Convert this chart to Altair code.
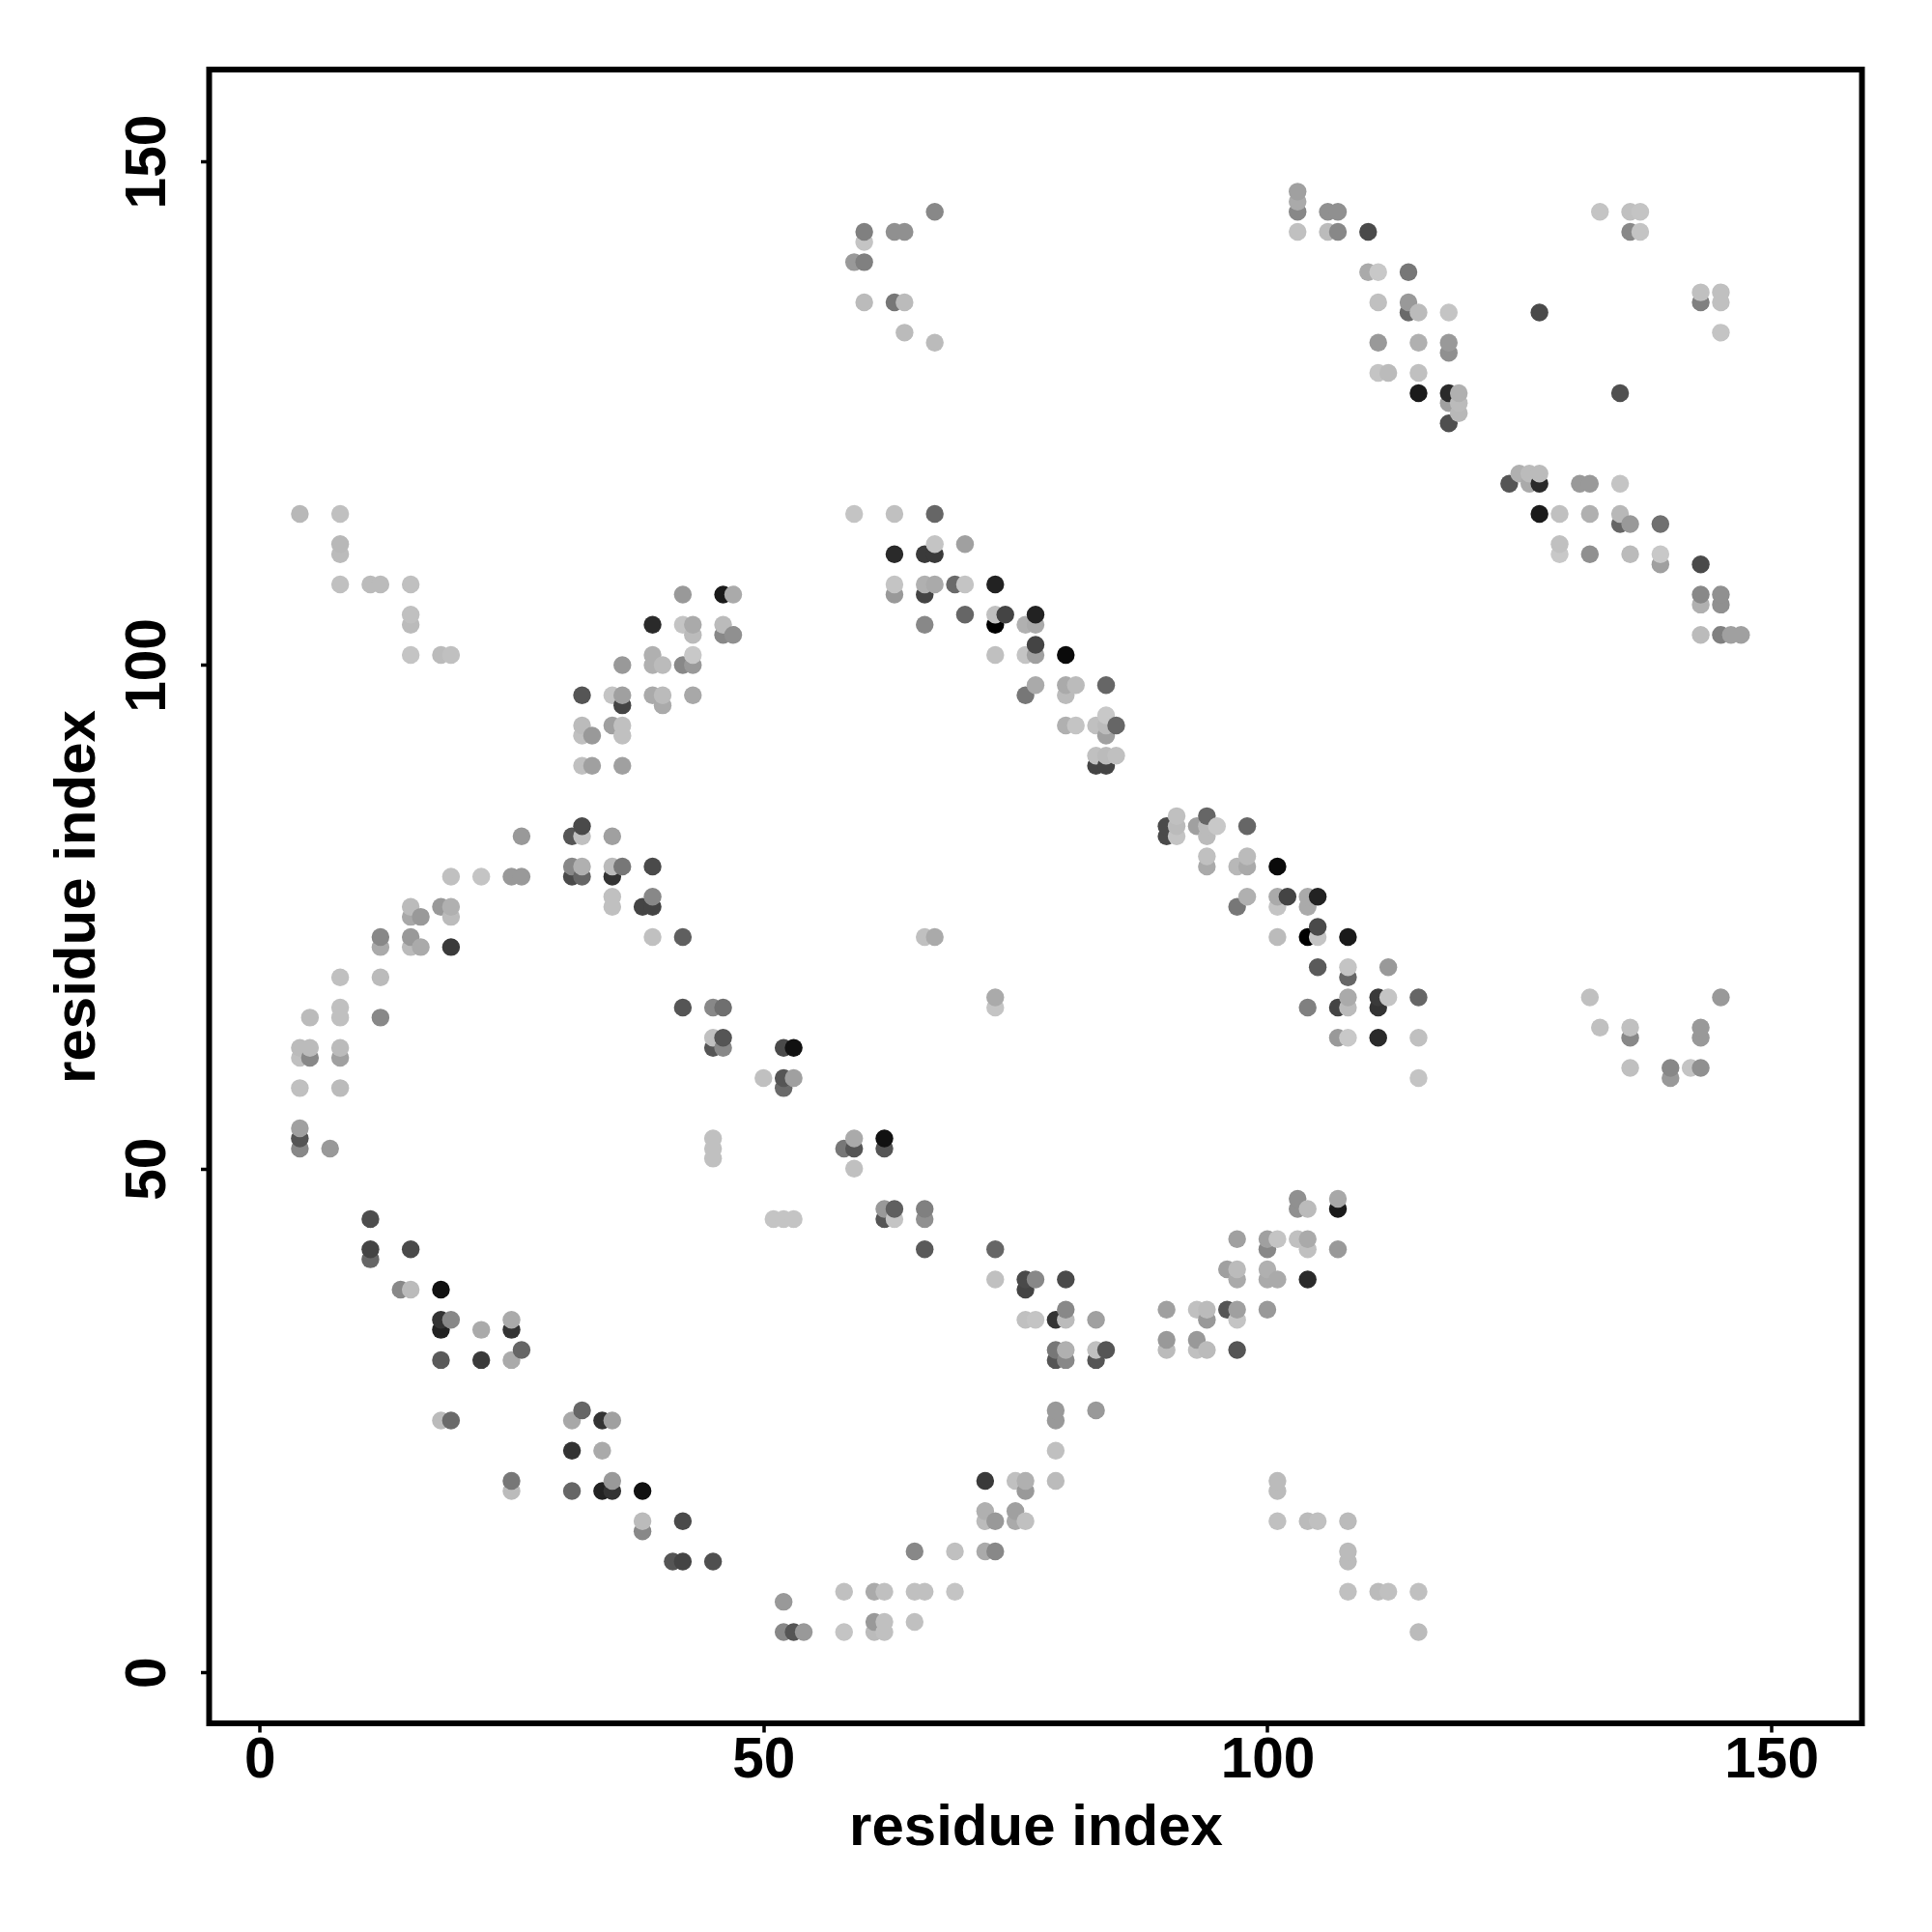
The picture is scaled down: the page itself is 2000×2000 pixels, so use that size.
import altair as alt
import pandas as pd

# (residue i, residue j, gray level 0-255)
lower_left = [
 (4,54,0xa0),(4,53,0x55),(4,52,0x88),(7,52,0x99),
 (11,45,0x4d),(11,42,0x44),(11,41,0x66),(15,42,0x4a),(14,38,0x88),(15,38,0xbb),(18,38,0x11),
 (18,35,0x33),(19,35,0x88),(18,34,0x22),(22,34,0xaa),(25,35,0xaa),(25,34,0x33),(26,32,0x66),
 (18,31,0x5a),(22,31,0x3a),(25,31,0xaa),(18,25,0xbb),(19,25,0x6a),(31,25,0xa8),(32,26,0x66),
 (34,25,0x33),(35,25,0xa0),(31,22,0x33),(34,22,0xaa),(25,19,0x77),(25,18,0xbb),(31,18,0x66),
 (34,18,0x22),(35,18,0x33),(35,19,0x99),(38,18,0x11),(38,15,0xbb),(38,14,0x88),(42,15,0x4a),
 (41,11,0x55),(42,11,0x44),(45,11,0x4f),(45,53,0xc0),(45,52,0xc0),(45,51,0xc0),
]
lower_mid = [
 (58,52,0x77),(59,52,0x55),(59,53,0xaa),(59,50,0xc0),(62,53,0x11),(62,52,0x55),
 (51,45,0xc4),(52,45,0xc4),(53,45,0xc4),(62,46,0x99),(62,45,0x55),(63,46,0x5f),(63,45,0xc4),
 (66,46,0x80),(66,45,0x90),(66,42,0x5a),(73,42,0x66),(73,39,0xc0),(76,39,0x4a),(76,38,0x44),
 (77,39,0x88),(80,39,0x4a),(76,35,0xc0),(77,35,0xc4),(79,35,0x33),(80,35,0xbb),(80,36,0x88),
 (83,35,0xa0),(79,32,0x77),(79,31,0x55),(80,32,0xb0),(80,31,0x88),(83,32,0xc0),(83,31,0x55),
 (84,32,0x55),(79,26,0x99),(79,25,0x99),(83,26,0x99),(79,22,0xc0),(72,19,0x3a),(75,19,0xc0),
 (76,19,0xb0),(76,18,0x99),(79,19,0xbb),(72,16,0xb0),(75,16,0xa0),(72,15,0xbb),(73,15,0x99),
 (75,15,0xaa),(76,15,0xc0),(65,12,0x88),(69,12,0xc0),(72,12,0xaa),(73,12,0x88),
 (58,8,0xc0),(61,8,0xaa),(62,8,0xc0),(65,8,0xc0),(66,8,0xc0),(69,8,0xc4),(52,7,0x99),
 (52,4,0x88),(53,4,0x55),(54,4,0x99),(58,4,0xc4),(61,4,0xbb),(62,4,0xc0),(61,5,0x99),(62,5,0xc0),(65,5,0xc0),
]
lower_right = [
 (103,47,0x90),(107,47,0xa8),(103,46,0x90),(104,46,0xbb),(107,46,0x1a),(97,43,0xa0),(100,43,0xa0),
 (101,43,0xc4),(103,43,0xc0),(104,43,0xaa),(100,42,0x88),(104,42,0xc0),(107,42,0x99),(96,40,0xa0),
 (97,40,0xbb),(100,40,0xb0),(97,39,0xaa),(100,39,0xaa),(101,39,0xaa),(104,39,0x2a),(90,36,0xa0),
 (93,36,0xc0),(94,36,0xbb),(96,36,0x55),(97,36,0xa0),(100,36,0x99),(94,35,0x99),(97,35,0xc4),
 (90,33,0x99),(93,33,0x99),(90,32,0xbb),(93,32,0xc0),(94,32,0xbb),(97,32,0x55),
 (101,19,0xbb),(101,18,0xbb),(101,15,0xc0),(104,15,0xbb),(105,15,0xc0),(108,15,0xbb),(108,12,0xbb),
 (108,11,0xbb),(108,8,0xc0),(111,8,0xbb),(112,8,0xc0),(115,8,0xc0),(115,4,0xbb),
]
upper_left = [
 (4,115,0xb8),(8,115,0xc0),(8,112,0xb8),(8,111,0xbb),(8,108,0xc0),(11,108,0xbb),(12,108,0xbb),
 (15,108,0xc0),(15,105,0xc0),(15,104,0xbb),(15,101,0xc4),(18,101,0xbb),(19,101,0xc0),
 (42,107,0x99),(46,107,0x1a),(47,107,0xaa),(39,104,0x2a),(42,104,0xc4),(43,104,0xaa),(43,103,0xbb),
 (46,104,0xbb),(46,103,0x88),(47,103,0x90),(39,101,0xb0),(43,101,0xc8),(39,100,0xb0),(40,100,0xbb),
 (42,100,0x88),(43,100,0x99),(36,100,0x99),(32,97,0x55),(35,97,0xc4),(36,97,0xa0),(36,96,0x44),
 (39,97,0xaa),(40,97,0xbb),(40,96,0xaa),(43,97,0xa8),(32,94,0xbb),(35,94,0xa0),(36,94,0xc0),
 (32,93,0xc0),(33,93,0x99),(36,93,0xc0),(32,90,0xc0),(33,90,0xa0),(36,90,0xa0),
 (32,84,0x4a),(26,83,0x99),(31,83,0x55),(32,83,0xc0),(35,83,0xa0),(31,80,0x88),(32,80,0xb0),
 (35,80,0xbb),(36,80,0x77),(39,80,0x4a),(19,79,0xc0),(22,79,0xc4),(25,79,0x99),(26,79,0x99),
 (31,79,0x4a),(32,79,0x66),(35,79,0x33),(35,77,0xc0),(35,76,0xc0),(38,76,0x44),(39,77,0x88),
 (39,76,0x44),(15,76,0xbb),(18,76,0x99),(19,76,0xb0),(15,75,0xa8),(16,75,0x99),(19,75,0xbb),
 (12,73,0x88),(15,73,0x99),(39,73,0xc0),(42,73,0x5f),(12,72,0xaa),(15,72,0xbb),(16,72,0xaa),
 (19,72,0x3a),(8,69,0xc0),(12,69,0xbb),(8,66,0xc0),(42,66,0x55),(45,66,0x88),(46,66,0x6f),
 (5,65,0xbb),(8,65,0xc0),(12,65,0x88),(45,63,0xc0),(45,62,0x55),(46,63,0x55),(46,62,0x88),
 (4,62,0xbb),(4,61,0xc0),(5,62,0xbb),(5,61,0x88),(8,62,0xbb),(8,61,0xa0),(4,58,0xc0),(8,58,0xbb),
]
upper_mid = [
 (59,115,0xc4),(63,115,0xc0),(67,115,0x66),(67,112,0xc4),(70,112,0xa0),(63,111,0x2a),(66,111,0x3a),
 (67,111,0x3a),(63,108,0xc4),(66,108,0xb0),(67,108,0xaa),(69,108,0x6a),(70,108,0xc4),(73,108,0x22),
 (63,107,0x99),(66,107,0x44),(70,105,0x66),(73,105,0xc0),(74,105,0x44),(77,105,0x22),(66,104,0x88),
 (73,104,0x00),(76,104,0xb0),(77,104,0xaa),(77,102,0x44),(73,101,0xc0),(76,101,0xc4),(77,101,0xa0),
 (80,101,0x0a),(77,98,0xaa),(80,98,0xaa),(81,98,0xbb),(84,98,0x66),(76,97,0x77),(80,97,0xbb),
 (84,95,0xc8),(80,94,0xb0),(81,94,0xc4),(83,94,0xc0),(84,94,0xbb),(85,94,0x66),(84,93,0xa0),
 (83,91,0xc0),(84,91,0xbb),(85,91,0xc0),(83,90,0x44),(84,90,0x44),
 (66,73,0xc0),(67,73,0xaa),(73,67,0xaa),(73,66,0xc4),
 (52,62,0x4a),(53,62,0x11),(50,59,0xc0),(52,59,0x55),(53,59,0xa0),(52,58,0x6a),
]
mid_right = [
 (91,85,0xc0),(94,85,0x66),(90,84,0x4a),(91,84,0xbb),(93,84,0xa0),(94,84,0xbb),(95,84,0xc8),(98,84,0x66),
 (90,83,0x4a),(91,83,0xc4),(94,83,0xbb),(94,81,0xc0),(98,81,0xbb),(94,80,0xaa),(97,80,0xb8),(98,80,0xaa),
 (101,80,0x0a),(98,77,0xb0),(101,77,0xaa),(102,77,0x44),(104,77,0xaa),(105,77,0x22),(97,76,0x77),
 (101,76,0xc4),(104,76,0xaa),(105,74,0x4a),(101,73,0xbb),(104,73,0x00),(105,73,0xc4),(108,73,0x1a),
 (105,70,0x5a),(108,70,0xc4),(112,70,0x99),(108,69,0x66),(108,67,0xaa),(111,67,0x3a),(112,67,0xc4),
 (115,67,0x66),(132,67,0xc0),(145,67,0x99),(104,66,0x80),(107,66,0x44),(108,66,0xbb),(111,66,0x33),
 (133,64,0xc0),(136,64,0xc0),(143,64,0x99),(107,63,0x99),(108,63,0xc8),(111,63,0x2a),(115,63,0xc0),
 (136,63,0x88),(143,63,0x99),(136,60,0xc0),(140,60,0x88),(142,60,0xc4),(143,60,0x90),(115,59,0xc4),(140,59,0x99),
]
upper_right = [
 (103,147,0xa0),(103,146,0xaa),(103,145,0x88),(106,145,0x90),(107,145,0x90),(133,145,0xc4),(136,145,0xc0),
 (137,145,0xc4),(103,143,0xc0),(106,143,0xbb),(107,143,0x88),(110,143,0x4a),(136,143,0x88),(137,143,0xc4),
 (110,139,0xaa),(111,139,0xc8),(114,139,0x77),(143,137,0xc0),(145,137,0xc0),(111,136,0xc0),(114,136,0x99),
 (143,136,0x80),(145,136,0xc0),(114,135,0x6a),(115,135,0xbb),(118,135,0xc4),(127,135,0x4a),(145,133,0xc4),
 (111,132,0x99),(115,132,0xb0),(118,132,0x99),(118,131,0x90),(111,129,0xc4),(112,129,0xbb),(115,129,0xc0),
 (115,127,0x1a),(118,127,0x2a),(119,127,0xb0),(135,127,0x4f),(118,126,0xa0),(119,126,0xbb),(119,125,0xb8),
 (118,124,0x4f),(125,119,0xb0),(126,119,0xbb),(127,119,0xbb),(124,118,0x55),(126,118,0xaa),(127,118,0x2a),
 (131,118,0x99),(132,118,0x99),(135,118,0xc4),(127,115,0x1a),(129,115,0xc0),(132,115,0xb0),(135,115,0xb8),
 (135,114,0x66),(136,114,0x99),(139,114,0x70),(129,112,0xc0),(129,111,0xc8),(132,111,0x90),(136,111,0xbb),
 (139,111,0xc8),(139,110,0xa0),(143,110,0x4a),(143,107,0x88),(145,107,0x90),(143,106,0xb0),(145,106,0x90),
 (143,103,0xbb),(145,103,0x80),(146,103,0xa0),(147,103,0xa0),
]
upper_top = [
 (67,145,0x88),(60,143,0x80),(63,143,0x90),(64,143,0x90),(60,142,0xc4),(59,140,0x99),(60,140,0x80),
 (60,136,0xbb),(63,136,0x77),(64,136,0xbb),(64,133,0xbb),(67,132,0xbb),
]
tick_values = [0, 50, 100, 150]
axis_label = "residue index"

rows = lower_left + lower_mid + lower_right + upper_left + upper_mid + mid_right + upper_right + upper_top
df = pd.DataFrame(rows, columns=["i", "j", "level"]).sort_values(["i", "j"])

FONT = "Liberation Sans"

def axis(**kw):
    return alt.Axis(values=tick_values, grid=False, domain=False, tickColor="black", tickWidth=3.5,
                    tickSize=9, labelFont=FONT, labelFontWeight="bold", labelFontSize=58.5,
                    labelColor="black", titleFont=FONT, titleFontWeight="bold", titleFontSize=60,
                    titleColor="black", title=axis_label, labelOverlap=False, labelFlush=False, **kw)

chart = alt.Chart(df).mark_circle(size=340, opacity=1).encode(
    x=alt.X("i:Q", scale=alt.Scale(domain=[-5, 159], nice=False, zero=False), axis=axis(labelPadding=0, titlePadding=12)),
    y=alt.Y("j:Q", scale=alt.Scale(domain=[-5.07, 159.12], nice=False, zero=False),
            axis=axis(labelAngle=270, labelAlign="center", labelBaseline="bottom", labelPadding=25, titlePadding=13)),
    color=alt.Color("level:Q", scale=alt.Scale(domain=[0, 255], range=["#000000", "#ffffff"], interpolate="rgb"), legend=None),
).properties(width=1711, height=1712, padding={"left": 41.5, "top": 64, "right": 10, "bottom": 10}, background="white"
).configure_view(stroke="black", strokeWidth=6)

chart.save("out.html", embed_options={"renderer": "svg", "actions": False})
